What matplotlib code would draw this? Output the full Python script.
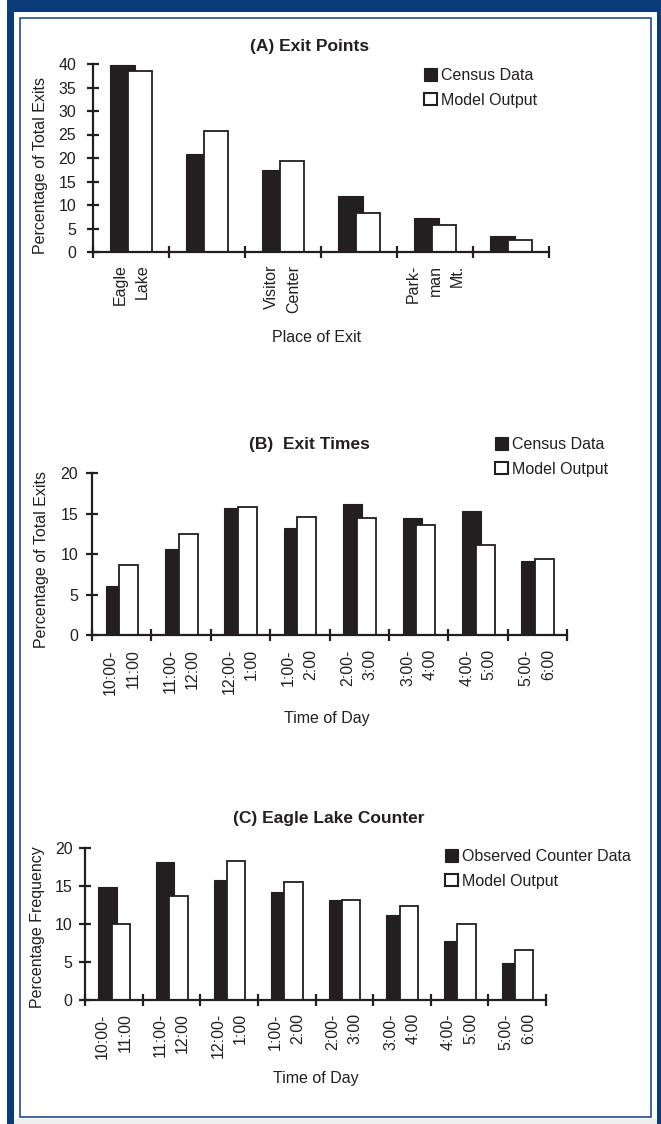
import matplotlib
matplotlib.use("Agg")
import matplotlib.pyplot as plt
import numpy as np
from matplotlib.patches import Rectangle, Patch

W, H = 661, 1124
plt.rcParams["font.family"] = ["Liberation Sans", "DejaVu Sans"]
INK = "#231f20"
NAVY = "#0b3a78"

# (A) exit points
exit_places = ["Eagle\nLake", "", "Visitor\nCenter", "", "Park-\nman\nMt.", ""]
exit_census = [39.8, 20.8, 17.4, 11.9, 7.2, 3.4]
exit_model = [38.6, 25.7, 19.4, 8.2, 5.7, 2.6]

# (B) exit times
time_slots = ["10:00-\n11:00", "11:00-\n12:00", "12:00-\n1:00", "1:00-\n2:00",
              "2:00-\n3:00", "3:00-\n4:00", "4:00-\n5:00", "5:00-\n6:00"]
time_census = [6.1, 10.6, 15.7, 13.3, 16.2, 14.5, 15.4, 9.2]
time_model = [8.7, 12.5, 15.8, 14.6, 14.5, 13.6, 11.2, 9.4]

# (C) Eagle Lake counter
counter_observed = [14.9, 18.25, 15.85, 14.3, 13.2, 11.2, 7.75, 4.9]
counter_model = [10.05, 13.65, 18.3, 15.5, 13.2, 12.4, 10.0, 6.65]

fig = plt.figure(figsize=(W / 100, H / 100), dpi=100)


def fx(px):
    return px / W


def fy(py):
    return 1 - py / H


# page frame
fig.add_artist(Rectangle((fx(7), fy(1124)), fx(661 - 7 + 10), 1 - fy(1124) + 0.1,
                         transform=fig.transFigure, fc=NAVY, ec="none", zorder=0))
fig.add_artist(Rectangle((fx(14), fy(1124)), fx(657 - 14), fy(12) - fy(1124),
                         transform=fig.transFigure, fc="white", ec="none", zorder=0))
fig.add_artist(Rectangle((fx(14), fy(1124)), fx(657 - 14), fy(1118.5) - fy(1124),
                         transform=fig.transFigure, fc="#eeeeee", ec="none", zorder=0))
fig.add_artist(Rectangle((fx(20), fy(1117)), fx(651 - 20), fy(17.5) - fy(1117),
                         transform=fig.transFigure, fc="none", ec="#1d4d8e", lw=1.2, zorder=1))


def panel(box, labels, first, second, ymax, names, title, title_xy, ylabel, ylabel_xy,
          xlabel, xlabel_xy, ytick_pad, xlab_pad, legend_xy):
    l, t, r, b = box
    ax = fig.add_axes([fx(l), fy(b), fx(r - l), fy(t) - fy(b)])
    n = len(first)
    x = np.arange(n) + 0.5
    ax.bar(x - 0.11, first, width=0.32, color=INK, edgecolor=INK, linewidth=0.8, zorder=2)
    ax.bar(x + 0.12, second, width=0.32, color="white", edgecolor=INK, linewidth=1.3, zorder=3)
    ax.set_xlim(0, n)
    ax.set_ylim(0, ymax)
    ax.set_yticks(np.arange(0, ymax + 1, 5))
    ax.set_xticks(np.arange(n + 1))
    ax.set_xticklabels([])
    ax.set_xticks(x, labels, minor=True)
    for s in ("top", "right"):
        ax.spines[s].set_visible(False)
    for s in ("left", "bottom"):
        ax.spines[s].set_linewidth(1.6)
        ax.spines[s].set_color(INK)
        ax.spines[s].set_zorder(5)
    ax.tick_params(which="major", direction="inout", length=8, width=1.6, color=INK,
                   labelsize=11.5, labelcolor=INK)
    ax.tick_params(axis="y", pad=ytick_pad)
    ax.tick_params(axis="x", which="minor", length=0, pad=xlab_pad, labelsize=11.5,
                   labelcolor=INK)
    for lab in ax.get_xticklabels(minor=True):
        lab.set_rotation(90)
        lab.set_va("top")
        lab.set_ha("center")
        lab.set_multialignment("right")
        lab.set_linespacing(1.6)
    ax.set_ylabel(ylabel, fontsize=11.5, color=INK, va="center")
    ax.yaxis.set_label_coords(fx(ylabel_xy[0]), fy(ylabel_xy[1]), transform=fig.transFigure)
    ax.set_xlabel(xlabel, fontsize=11.5, color=INK, va="center")
    ax.xaxis.set_label_coords(fx(xlabel_xy[0]), fy(xlabel_xy[1]), transform=fig.transFigure)
    fig.text(fx(title_xy[0]), fy(title_xy[1]), title, fontsize=12.5, fontweight="bold",
             color=INK, ha="center", va="center")
    handles = [Patch(fc=INK, ec=INK, lw=0.8), Patch(fc="white", ec=INK, lw=1.5)]
    ax.legend(handles, names, loc="upper left", bbox_to_anchor=(fx(legend_xy[0]), fy(legend_xy[1])),
              bbox_transform=fig.transFigure, frameon=False, borderpad=0, borderaxespad=0,
              handlelength=0.8, handleheight=0.8, handletextpad=0.25, labelspacing=0.6,
              fontsize=11.5, labelcolor=INK)
    return ax


panel((93, 64, 549, 252), exit_places, exit_census, exit_model, 40,
      ["Census Data", "Model Output"], "(A) Exit Points", (310, 47),
      "Percentage of Total Exits", (41, 165), "Place of Exit", (317, 337),
      8, 9, (424, 68))

panel((92, 473.3, 567, 635.3), time_slots, time_census, time_model, 20,
      ["Census Data", "Model Output"], "(B)  Exit Times", (309, 445),
      "Percentage of Total Exits", (42, 560), "Time of Day", (327, 718),
      6, 10, (495, 437))

panel((85, 848.3, 546, 1000), time_slots, counter_observed, counter_model, 20,
      ["Observed Counter Data", "Model Output"], "(C) Eagle Lake Counter", (329, 819),
      "Percentage Frequency", (38, 927), "Time of Day", (316, 1079),
      5, 9.5, (445, 849))

fig.savefig("out.png", dpi=100)
